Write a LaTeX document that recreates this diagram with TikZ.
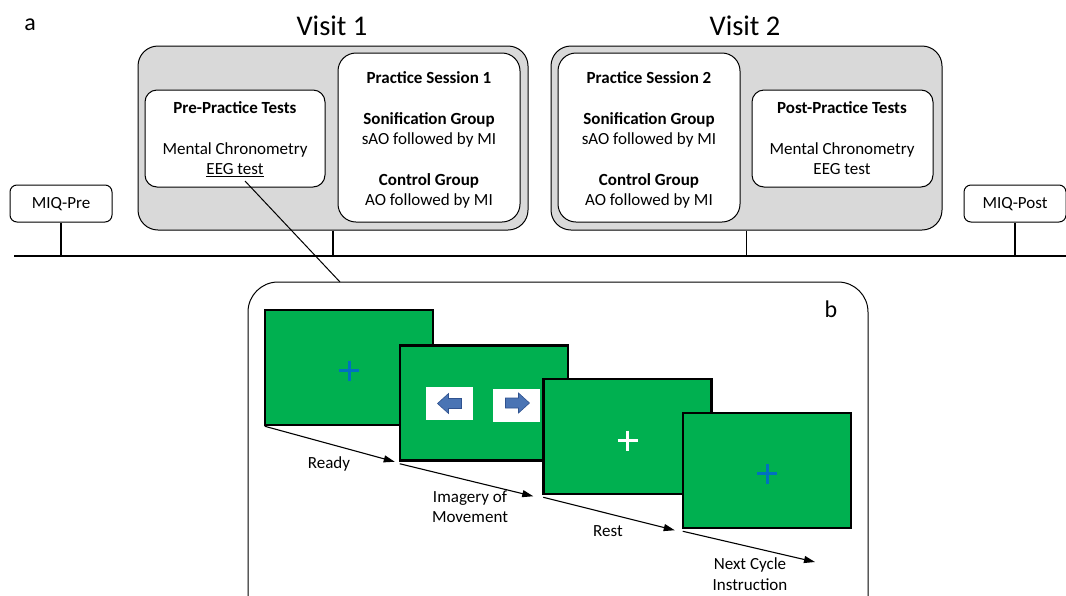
\documentclass[tikz,border=0pt]{standalone}
\usepackage{fontspec}
\setmainfont{Carlito}
\usetikzlibrary{arrows.meta,calc}
\definecolor{boxgray}{HTML}{D9D9D9}
\definecolor{scrgreen}{HTML}{00B050}
\definecolor{crossblue}{HTML}{0070C0}
\definecolor{arrfill}{HTML}{4A74B4}
\definecolor{arredge}{HTML}{2F528F}
\begin{document}
\begin{tikzpicture}[x=1pt,y=-1pt,
  txt/.style={font=\fontsize{17}{20}\selectfont, inner sep=0pt, anchor=mid},
  btxt/.style={font=\fontsize{17}{20}\selectfont\bfseries, inner sep=0pt, anchor=mid},
  big/.style={font=\fontsize{28.5}{32}\selectfont, inner sep=0pt, anchor=mid},
  letter/.style={font=\fontsize{24}{27}\selectfont, inner sep=0pt, anchor=mid},
  visitbox/.style={draw, line width=1pt, fill=boxgray, rounded corners=20pt, inner sep=0pt},
  whitebox/.style={draw, line width=1pt, fill=white, rounded corners=18pt, inner sep=0pt},
  testbox/.style={draw, line width=1pt, fill=white, rounded corners=12pt, inner sep=0pt},
  miqbox/.style={draw, line width=1pt, fill=white, rounded corners=7pt, inner sep=0pt, minimum width=102pt, minimum height=37pt},
  screen/.style={draw, line width=2.5pt, fill=scrgreen, inner sep=0pt, minimum width=168pt, minimum height=115pt},
  cue/.style={fill=white, inner sep=0pt, minimum width=47pt, minimum height=33pt},
  tick/.style={line width=1.3pt},
  seq/.style={line width=1.1pt, -{Triangle[length=11pt,width=7pt]}},
  pluswhite/.style={white, line width=3pt},
  plusblue/.style={crossblue, line width=3pt}
]
\useasboundingbox (0,0) rectangle (1066,595);
\clip (0,0) rectangle (1066,595);

% labels
\node[letter] (la) at (30,28) {a};
\node[big] (v1) at (332,33) {Visit 1};
\node[big] (v2) at (745,33) {Visit 2};

% visit boxes
\node[visitbox, minimum width=390pt, minimum height=184pt] (visit1) at (333,138) {};
\node[visitbox, minimum width=391pt, minimum height=184pt] (visit2) at (746.5,138) {};

\node[testbox, minimum width=180pt, minimum height=97pt] (pre) at (235,138.5) {};
\node[whitebox, minimum width=182pt, minimum height=169pt] (ps1) at (429,137.5) {};
\node[whitebox, minimum width=182pt, minimum height=169pt] (ps2) at (649,137.5) {};
\node[testbox, minimum width=181pt, minimum height=97pt] (post) at (842.5,138.5) {};

% pre-practice text
\node[btxt] (preT) at (235,111) {Pre-Practice Tests};
\node[txt] (preM) at (235,152) {Mental Chronometry};
\node[txt] (eeg) at (235,172) {\underline{EEG test}};

% practice session 1
\node[btxt] (ps1T) at (429,81) {Practice Session 1};
\node[btxt] (ps1S) at (429,122) {Sonification Group};
\node[txt] (ps1s) at (429,142) {sAO followed by MI};
\node[btxt] (ps1C) at (429,183) {Control Group};
\node[txt] (ps1c) at (429,203) {AO followed by MI};

% practice session 2
\node[btxt] (ps2T) at (649,81) {Practice Session 2};
\node[btxt] (ps2S) at (649,122) {Sonification Group};
\node[txt] (ps2s) at (649,142) {sAO followed by MI};
\node[btxt] (ps2C) at (649,183) {Control Group};
\node[txt] (ps2c) at (649,203) {AO followed by MI};

% post-practice
\node[btxt] (postT) at (842,111) {Post-Practice Tests};
\node[txt] (postM) at (842,152) {Mental Chronometry};
\node[txt] (postE) at (842,172) {EEG test};

% MIQ boxes
\node[miqbox] (miqpre) at (61,203.5) {};
\node[txt] (miqpreT) at (61,206.5) {MIQ-Pre};
\node[miqbox] (miqpost) at (1015,203.5) {};
\node[txt] (miqpostT) at (1015,206.5) {MIQ-Post};

% timeline
\coordinate (tlL) at (14,256);
\coordinate (tlR) at (1066,256);
\draw[line width=2pt] (tlL) -- (tlR);
\draw[tick] (miqpre.south) -- (miqpre.south |- tlL);
\draw[tick] (miqpost.south) -- (miqpost.south |- tlL);
\draw[tick] (visit1.south) -- (visit1.south |- tlL);
\draw[tick] (visit2.south) -- (visit2.south |- tlL);

% panel b
\node[draw, line width=1pt, rounded corners=30pt, minimum width=620pt, minimum height=360pt, inner sep=0pt] (panel) at (558,462) {};
\node[letter] (lb) at (831,315) {b};
\coordinate (eegfoot) at (245,181);
\coordinate (paneltop) at (340,282);
\draw[line width=1pt] (eegfoot) -- (paneltop);

% screens
\node[screen] (s1) at (349,367.5) {};
\draw[plusblue] ($(s1.center)+(-10,3)$) -- ($(s1.center)+(10,3)$);
\draw[plusblue] ($(s1.center)+(0,-7)$) -- ($(s1.center)+(0,13)$);

\node[screen] (s2) at (484,403) {};
\node[cue] (cueL) at (449.5,403.5) {};
\node[cue] (cueR) at (516.5,405) {};
\draw[fill=arrfill, draw=arredge, line width=0.6pt]
  ($(cueL.center)+(-12,0)$) -- ++(11,-10) -- ++(0,5) -- ++(13,0) -- ++(0,10) -- ++(-13,0) -- ++(0,5) -- cycle;
\draw[fill=arrfill, draw=arredge, line width=0.6pt]
  ($(cueR.center)+(13,-2)$) -- ++(-11,-10) -- ++(0,5) -- ++(-13,0) -- ++(0,10) -- ++(13,0) -- ++(0,5) -- cycle;

\node[screen] (s3) at (627.5,436.5) {};
\draw[pluswhite] ($(s3.center)+(-10,4)$) -- ($(s3.center)+(10,4)$);
\draw[pluswhite] ($(s3.center)+(0,-6)$) -- ($(s3.center)+(0,14)$);

\node[screen] (s4) at (767,470.5) {};
\draw[plusblue] ($(s4.center)+(-10,3)$) -- ($(s4.center)+(10,3)$);
\draw[plusblue] ($(s4.center)+(0,-7)$) -- ($(s4.center)+(0,13)$);

% sequence arrows
\coordinate (end4) at (815,562);
\draw[seq] ($(s1.south west)+(1,0)$) -- ($(s2.south west)+(-4,0)$);
\draw[seq] ($(s2.south west)+(1,2)$) -- ($(s3.south west)+(-9,1)$);
\draw[seq] ($(s3.south west)+(1,2)$) -- ($(s4.south west)+(-7,1)$);
\draw[seq] ($(s4.south west)+(1,2)$) -- (end4);

\node[txt] (lready) at (329,466) {Ready};
\node[txt] (limag1) at (470,500) {Imagery of};
\node[txt] (limag2) at (470,520) {Movement};
\node[txt] (lrest) at (608,534) {Rest};
\node[txt] (lnext1) at (750,567) {Next Cycle};
\node[txt] (lnext2) at (750,588) {Instruction};
\end{tikzpicture}
\end{document}
